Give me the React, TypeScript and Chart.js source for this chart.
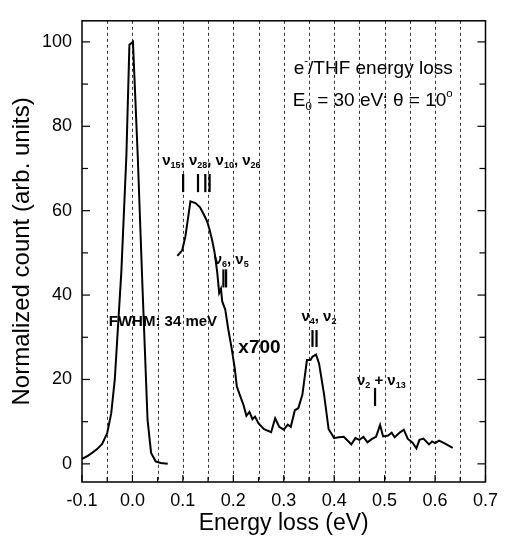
import { useEffect, useRef } from 'react';
import { Chart, registerables } from 'chart.js';

Chart.register(...registerables);

// ---- data (energy loss in eV, normalized counts) ----
const elasticEnergy = [-0.1, -0.09, -0.08, -0.07, -0.06, -0.05, -0.042, -0.035, -0.022, -0.012, -0.006, 0.001, 0.0105, 0.02, 0.03, 0.037, 0.046, 0.056, 0.07];
const elasticCounts = [1.2, 1.8, 2.6, 3.5, 4.7, 7.3, 12, 20, 45.5, 73, 99.3, 100, 73, 41.6, 10.4, 2.6, 0.6, 0.2, 0];

const lossEnergy = [
  0.089, 0.0987, 0.105, 0.115, 0.125, 0.134, 0.141, 0.148, 0.153, 0.158, 0.163, 0.168, 0.172, 0.1755, 0.178,
  0.184, 0.19, 0.197, 0.203, 0.207, 0.213, 0.22, 0.226, 0.232, 0.238, 0.243, 0.25, 0.261, 0.275, 0.283,
  0.291, 0.3, 0.308, 0.314, 0.322, 0.329, 0.337, 0.346, 0.353, 0.357, 0.364, 0.37, 0.38, 0.389, 0.4,
  0.409, 0.419, 0.425, 0.434, 0.442, 0.45, 0.458, 0.466, 0.475, 0.483, 0.491, 0.497, 0.507, 0.514, 0.52,
  0.53, 0.538, 0.546, 0.555, 0.563, 0.569, 0.577, 0.588, 0.594, 0.6, 0.608, 0.618, 0.627, 0.635,
];
const lossCounts = [
  49.3, 50.6, 53.9, 62.2, 61.8, 60.8, 59.2, 57.5, 55.5, 53, 50, 45.5, 40.5, 41.5, 38.5,
  36.6, 31.9, 27.2, 22.5, 18.3, 16.3, 14, 11.4, 12.3, 10.6, 11.2, 9.6, 8.2, 7.5, 10.8,
  8.8, 8.1, 9.3, 8.8, 12.7, 13.2, 16.4, 24.6, 24.6, 25.4, 25.9, 23.8, 16.4, 8.2, 6.1,
  6.3, 6.4, 5.7, 4.6, 6.1, 5.7, 6.4, 5.1, 5.9, 6.4, 9.2, 6.5, 6.7, 7.4, 6.3,
  7.4, 8.1, 5.9, 5.1, 3.7, 5.7, 6.0, 4.6, 5.3, 4.9, 5.5, 4.9, 4.3, 3.8,
];

const xTickValues = [-0.1, 0, 0.1, 0.2, 0.3, 0.4, 0.5, 0.6, 0.7];
const xGridValues = [-0.05, 0, 0.05, 0.1, 0.15, 0.2, 0.25, 0.3, 0.35, 0.4, 0.45, 0.5, 0.55, 0.6, 0.65];
const xMinorTicks = [-0.05, 0.05, 0.15, 0.25, 0.35, 0.45, 0.55, 0.65];
const yTickValues = [0, 20, 40, 60, 80, 100];
const yMinorTicks = [10, 30, 50, 70, 90];

// vibrational mode markers: energy, lower count, upper count
const markerEnergy = [0.1005, 0.13, 0.1445, 0.153, 0.1804, 0.1857, 0.357, 0.365, 0.481];
const markerLow = [64.4, 64.4, 64.4, 64.4, 41.8, 41.8, 27.7, 27.7, 13.7];
const markerHigh = [68.7, 68.7, 68.7, 68.7, 46.1, 46.1, 31.7, 31.7, 18];

type Seg = { t: string; k?: 'sub' | 'sup' };
type Note = { e: number; v: number; size: number; bold: boolean; align: 'left' | 'right'; segs: Seg[] };

const notes: Note[] = [
  { e: 0.635, v: 93.7, size: 19, bold: false, align: 'right', segs: [{ t: 'e' }, { t: '-', k: 'sup' }, { t: '/THF energy loss' }] },
  { e: 0.635, v: 86.0, size: 19, bold: false, align: 'right', segs: [{ t: 'E' }, { t: '0', k: 'sub' }, { t: ' = 30 eV; θ = 10' }, { t: 'o', k: 'sup' }] },
  {
    e: 0.059, v: 71.8, size: 15, bold: true, align: 'left',
    segs: [{ t: 'ν' }, { t: '15', k: 'sub' }, { t: ', ' }, { t: 'ν' }, { t: '28', k: 'sub' }, { t: ', ' }, { t: 'ν' }, { t: '10', k: 'sub' }, { t: ', ' }, { t: 'ν' }, { t: '26', k: 'sub' }],
  },
  { e: 0.161, v: 48.4, size: 15, bold: true, align: 'left', segs: [{ t: 'ν' }, { t: '6', k: 'sub' }, { t: ', ' }, { t: 'ν' }, { t: '5', k: 'sub' }] },
  { e: 0.335, v: 34.8, size: 15, bold: true, align: 'left', segs: [{ t: 'ν' }, { t: '4', k: 'sub' }, { t: ', ' }, { t: 'ν' }, { t: '2', k: 'sub' }] },
  { e: 0.445, v: 19.6, size: 15, bold: true, align: 'left', segs: [{ t: 'ν' }, { t: '2', k: 'sub' }, { t: ' + ' }, { t: 'ν' }, { t: '13', k: 'sub' }] },
  { e: -0.047, v: 33.6, size: 15, bold: true, align: 'left', segs: [{ t: 'FWHM: 34 meV' }] },
  { e: 0.21, v: 27.5, size: 19, bold: true, align: 'left', segs: [{ t: 'x700' }] },
];

const FONT = '"Liberation Sans", Arial, Helvetica, sans-serif';

function segFont(s: Seg, size: number, bold: boolean) {
  const fs = s.k ? size * 0.6 : size;
  return `${bold ? 'bold ' : ''}${fs}px ${FONT}`;
}

function drawRich(ctx: CanvasRenderingContext2D, n: Note, x: number, y: number) {
  let total = 0;
  for (const s of n.segs) {
    ctx.font = segFont(s, n.size, n.bold);
    total += ctx.measureText(s.t).width;
  }
  let cx = n.align === 'right' ? x - total : x;
  for (const s of n.segs) {
    ctx.font = segFont(s, n.size, n.bold);
    const dy = s.k === 'sub' ? n.size * 0.3 : s.k === 'sup' ? -n.size * 0.4 : 0;
    ctx.fillText(s.t, cx, y + dy);
    cx += ctx.measureText(s.t).width;
  }
}

const decor = {
  id: 'decor',
  beforeDatasetsDraw(chart: any) {
    const { ctx, chartArea: a, scales } = chart;
    const x = scales.x;
    ctx.save();
    ctx.strokeStyle = '#333';
    ctx.lineWidth = 1;
    ctx.setLineDash([3, 3]);
    for (const g of xGridValues) {
      const px = Math.round(x.getPixelForValue(g)) + 0.5;
      ctx.beginPath();
      ctx.moveTo(px, a.top);
      ctx.lineTo(px, a.bottom);
      ctx.stroke();
    }
    ctx.restore();
  },
  afterDatasetsDraw(chart: any) {
    const { ctx, chartArea: a, scales } = chart;
    const x = scales.x;
    const y = scales.y;
    ctx.save();
    ctx.strokeStyle = '#000';
    ctx.lineWidth = 1.5;
    ctx.setLineDash([]);
    ctx.strokeRect(a.left, a.top, a.right - a.left, a.bottom - a.top);
    ctx.lineWidth = 1.2;
    const tick = (x1: number, y1: number, x2: number, y2: number) => {
      ctx.beginPath();
      ctx.moveTo(x1, y1);
      ctx.lineTo(x2, y2);
      ctx.stroke();
    };
    for (const v of yTickValues) {
      const py = y.getPixelForValue(v);
      tick(a.left, py, a.left + 8, py);
      tick(a.right, py, a.right - 8, py);
    }
    for (const v of yMinorTicks) {
      const py = y.getPixelForValue(v);
      tick(a.left, py, a.left + 6, py);
      tick(a.right, py, a.right - 6, py);
    }
    for (const v of xTickValues) {
      const px = x.getPixelForValue(v);
      tick(px, a.bottom, px, a.bottom - 7);
    }
    for (const v of xMinorTicks) {
      const px = x.getPixelForValue(v);
      tick(px, a.bottom, px, a.bottom - 5);
    }
    // mode markers
    ctx.lineWidth = 2.2;
    markerEnergy.forEach((e, i) => {
      const px = x.getPixelForValue(e);
      tick(px, y.getPixelForValue(markerLow[i]), px, y.getPixelForValue(markerHigh[i]));
    });
    // notes
    ctx.fillStyle = '#000';
    ctx.textBaseline = 'middle';
    ctx.textAlign = 'left';
    for (const n of notes) {
      drawRich(ctx, n, x.getPixelForValue(n.e), y.getPixelForValue(n.v));
    }
    ctx.restore();
  },
};

export default function App() {
  const ref = useRef<HTMLCanvasElement>(null);
  useEffect(() => {
    document.body.style.margin = '0';
    Chart.defaults.font.family = FONT;
    Chart.defaults.color = '#000';
    const chart = new Chart(ref.current!, {
      type: 'line',
      data: {
        datasets: [
          {
            data: elasticEnergy.map((e, i) => ({ x: e, y: elasticCounts[i] })),
            borderColor: '#000',
            borderWidth: 2,
            pointRadius: 0,
            tension: 0,
            fill: false,
          },
          {
            data: lossEnergy.map((e, i) => ({ x: e, y: lossCounts[i] })),
            borderColor: '#000',
            borderWidth: 2,
            pointRadius: 0,
            tension: 0,
            fill: false,
          },
        ],
      },
      options: {
        animation: false,
        responsive: false,
        events: [],
        layout: { padding: { top: 15, right: 16, left: 0, bottom: 0 } },
        plugins: { legend: { display: false }, tooltip: { enabled: false } },
        scales: {
          x: {
            type: 'linear',
            min: -0.1,
            max: 0.7,
            grid: { display: false, drawTicks: false },
            border: { display: false },
            afterBuildTicks: (s: any) => {
              s.ticks = xTickValues.map((v) => ({ value: v }));
            },
            afterFit: (s: any) => {
              s.height = 57;
            },
            ticks: {
              callback: (v: any) => Number(v).toFixed(1),
              padding: 8,
              font: { size: 18 },
              color: '#000',
              maxRotation: 0,
              autoSkip: false,
            },
            title: { display: true, text: 'Energy loss (eV)', font: { size: 23 }, color: '#000', padding: { top: 0, bottom: 1.5 } },
          },
          y: {
            type: 'linear',
            min: -4.3,
            max: 105,
            grid: { display: false, drawTicks: false },
            border: { display: false },
            afterBuildTicks: (s: any) => {
              s.ticks = yTickValues.map((v) => ({ value: v }));
            },
            afterFit: (s: any) => {
              s.width = 82;
            },
            ticks: {
              callback: (v: any) => String(v),
              padding: 10,
              font: { size: 18 },
              color: '#000',
              autoSkip: false,
            },
            title: {
              display: true,
              text: 'Normalized count (arb. units)',
              font: { size: 24 },
              color: '#000',
              padding: { top: 7.5, bottom: 0 },
            },
          },
        },
      } as any,
      plugins: [decor],
    });
    return () => chart.destroy();
  }, []);
  return (
    <div style={{ width: 506, height: 539 }}>
      <canvas ref={ref} width={506} height={539} style={{ display: 'block' }} />
    </div>
  );
}
